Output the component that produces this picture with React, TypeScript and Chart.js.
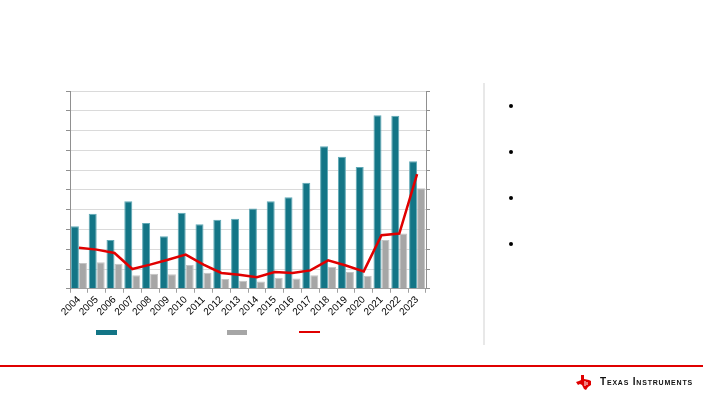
import React, { useEffect, useRef } from "react";
import { Chart, registerables } from "chart.js";

Chart.register(...registerables);

const years = ["2004","2005","2006","2007","2008","2009","2010","2011","2012","2013","2014","2015","2016","2017","2018","2019","2020","2021","2022","2023"];
const tealValues = [3.16,3.79,2.47,4.42,3.33,2.65,3.84,3.26,3.49,3.54,4.06,4.42,4.63,5.36,7.21,6.67,6.16,8.78,8.75,6.45];
const grayValues = [1.30,1.34,1.27,0.68,0.76,0.74,1.20,0.81,0.49,0.41,0.37,0.56,0.52,0.69,1.12,0.85,0.66,2.47,2.79,5.08];
const lineValues = [2.08,1.98,1.81,1.00,1.22,1.47,1.73,1.22,0.80,0.71,0.59,0.85,0.80,0.93,1.44,1.18,0.88,2.71,2.79,5.80];

const TEAL = "#137586";
const GRAY = "#a6a6a6";
const RED = "#e00000";

export default function App() {
  const ref = useRef<HTMLCanvasElement | null>(null);
  useEffect(() => {
    if (!ref.current) return;
    const chart = new Chart(ref.current, {
      data: {
        labels: years,
        datasets: [
          {
            type: "bar",
            data: tealValues,
            backgroundColor: TEAL,
            borderColor: "#5fa9b6",
            borderWidth: 1,
            categoryPercentage: 0.9,
            barPercentage: 1.0,
            yAxisID: "y",
            order: 2,
          },
          {
            type: "bar",
            data: grayValues,
            backgroundColor: GRAY,
            borderColor: "#c4c4c4",
            borderWidth: 1,
            categoryPercentage: 0.9,
            barPercentage: 1.0,
            yAxisID: "y",
            order: 2,
          },
          {
            type: "line",
            data: lineValues,
            borderColor: RED,
            borderWidth: 2.5,
            pointRadius: 0,
            tension: 0,
            yAxisID: "y1",
            order: 1,
          },
        ],
      } as any,
      options: {
        animation: false,
        responsive: false,
        maintainAspectRatio: false,
        layout: { padding: { left: 66, right: 290, top: 91, bottom: 86 } },
        plugins: { legend: { display: false }, tooltip: { enabled: false } },
        scales: {
          x: {
            offset: true,
            grid: { display: true, drawOnChartArea: false, drawTicks: true, tickLength: 4, color: "#a0a0a0", offset: true },
            border: { display: true, color: "#a0a0a0" },
            ticks: {
              color: "#000",
              font: { family: "Liberation Sans", size: 10 },
              maxRotation: 45,
              minRotation: 45,
              autoSkip: false,
              padding: 1,
            },
          },
          y: {
            position: "left",
            min: 0,
            max: 10,
            ticks: { display: false, stepSize: 1 },
            grid: { color: "#dadada", tickColor: "#909090", tickLength: 4, drawTicks: true },
            border: { display: true, color: "#909090" },
          },
          y1: {
            position: "right",
            min: 0,
            max: 10,
            ticks: { display: false, stepSize: 1 },
            grid: { drawOnChartArea: false, tickColor: "#909090", tickLength: 4, drawTicks: true },
            border: { display: true, color: "#909090" },
          },
        },
      },
    });
    return () => chart.destroy();
  }, []);

  const bulletYs = [106, 152, 198, 244];

  return (
    <div style={{ position: "absolute", left: 0, top: 0, width: 720, height: 405, background: "#fff", overflow: "hidden" }}>
      <canvas ref={ref} width={720} height={405} style={{ position: "absolute", left: 0, top: 0, width: 720, height: 405 }} />
      {/* legend */}
      <div style={{ position: "absolute", left: 96, top: 330, width: 21, height: 5, background: TEAL }} />
      <div style={{ position: "absolute", left: 227, top: 330, width: 20, height: 5, background: GRAY }} />
      <div style={{ position: "absolute", left: 299, top: 331, width: 21, height: 2, background: RED }} />
      {/* divider */}
      <div style={{ position: "absolute", left: 483, top: 83, width: 2, height: 262, background: "#e8e8e8" }} />
      {bulletYs.map((y) => (
        <div key={y} style={{ position: "absolute", left: 509, top: y - 2, width: 4, height: 4, borderRadius: 2, background: "#000" }} />
      ))}
      {/* bottom red rule */}
      <div style={{ position: "absolute", left: 0, top: 365, width: 703, height: 2, background: RED }} />
      {/* logo */}
      <svg style={{ position: "absolute", left: 576, top: 375 }} width="16" height="15" viewBox="0 0 16 15">
        <path d="M5 0 L8 0 L8 4 L13 5 L15 6 L15 10 L12 12 L10 15 L8 14 L6 10 L4 9 L2 10 L0 7 L3 6 L5 5 Z" fill={RED} />
        <path d="M9 6 L9 11 M11 7 L11 10" stroke="#fff" strokeWidth="1" />
      </svg>
      <div style={{ position: "absolute", left: 600, top: 376, fontFamily: "Liberation Sans", fontSize: 10, fontWeight: "bold", fontVariant: "small-caps", color: "#111", letterSpacing: 0.8, whiteSpace: "nowrap" }}>
        Texas Instruments
      </div>
    </div>
  );
}
